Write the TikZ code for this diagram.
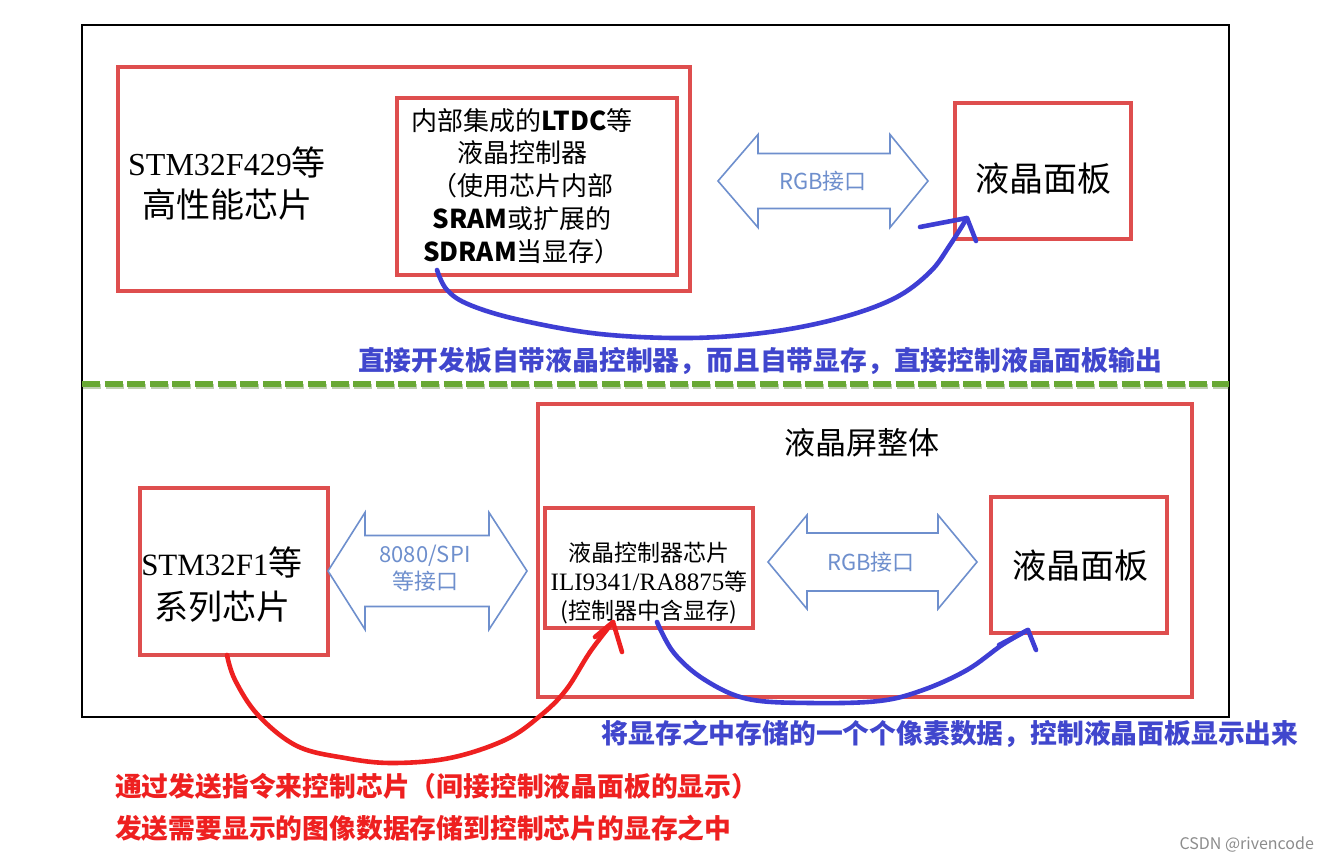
\documentclass[tikz,border=0pt]{standalone}
\usepackage{fontspec}
\setmainfont{Noto Sans CJK SC}
\newfontfamily\lser{Liberation Serif}
\definecolor{boxred}{RGB}{222,78,78}
\definecolor{arrblue}{RGB}{110,143,205}
\definecolor{handblue}{RGB}{62,62,212}
\definecolor{handred}{RGB}{238,32,32}
\definecolor{txtblue}{RGB}{64,70,205}
\definecolor{dashgreen}{RGB}{104,168,52}
\tikzset{
  redbox/.style={draw=boxred, line width=1.6pt, inner sep=0pt},
  dbl/.style={draw=arrblue, line width=0.8pt, fill=white, line join=miter},
  hand/.style={line width=2.3pt, line cap=round, line join=round},
  arrtxt/.style={text=arrblue, font=\fontsize{11}{13.5}\selectfont, align=center},
  note/.style={font=\bfseries\fontsize{13.4}{16}\selectfont}
}
\newcommand{\dblarr}[7]{% tipL tipR innerL innerR cy headhalf shafthalf
  \draw[dbl] (#1,#5) -- (#3,#5-#6) -- (#3,#5-#7) -- (#4,#5-#7) -- (#4,#5-#6) -- (#2,#5)
    -- (#4,#5+#6) -- (#4,#5+#7) -- (#3,#5+#7) -- (#3,#5+#6) -- cycle;}
\begin{document}
\begin{tikzpicture}[x=0.5pt,y=-0.5pt]
\useasboundingbox[fill=white] (0,0) rectangle (1334,860);
% outer frame
\draw[line width=1pt] (82,25) rectangle (1229,717);
% ---------- top part
\node[redbox, minimum width=286pt, minimum height=112pt] (chipA) at (404,179) {};
\node[font=\fontsize{17}{21}\selectfont, align=center] (chipAtxt) at (227,184)
  {{\lser\fontsize{16}{21}\selectfont STM32F429}等\\高性能芯片};
\node[redbox, minimum width=140pt, minimum height=88.5pt] (ltdc) at (537,186.5) {};
\node[font=\fontsize{13}{16.4}\selectfont, align=center] (ltdctxt) at (522,186)
  {内部集成的\textbf{LTDC}等\\液晶控制器\\（使用芯片内部\\\textbf{SRAM}或扩展的\\\textbf{SDRAM}当显存）};
\dblarr{718}{928}{758}{890}{181}{46.5}{27.5}
\node[arrtxt] (rgbA) at (823,181) {RGB接口};
\node[redbox, minimum width=88pt, minimum height=68pt] (panelA) at (1043,171) {};
\node[font=\fontsize{17}{20}\selectfont] (panelAtxt) at (1043,179) {液晶面板};
% blue hand curve top
\coordinate (bAs) at (437,270);
\coordinate (bAe) at (967,218);
\coordinate (bAt1) at (920,227);
\coordinate (bAt2) at (976,241);
\draw[hand, handblue] plot[smooth, tension=0.6] coordinates {(bAs) (447,290) (470,305) (520,320) (600,334) (690,338) (770,332) (840,318) (895,298) (930,272) (950,245) (bAe)};
\draw[hand, handblue] (bAt1) -- (bAe) -- (bAt2);
\node[note, text=txtblue] (noteA) at (760,361) {直接开发板自带液晶控制器，而且自带显存，直接控制液晶面板输出};
% green divider
\draw[dashgreen!70!black, opacity=0.35, line width=2.6pt, dash pattern=on 9pt off 2.3pt] (83,386.5) -- (1229,386.5);
\draw[dashgreen, line width=2.6pt, dash pattern=on 9pt off 2.3pt] (82,384) -- (1229,384);
% ---------- bottom part
\node[redbox, minimum width=94pt, minimum height=83.5pt] (chipB) at (234,571.5) {};
\node[font=\fontsize{17}{22}\selectfont, align=center] (chipBtxt) at (222,585)
  {{\lser\fontsize{15.5}{22}\selectfont STM32F1}等\\系列芯片};
\dblarr{328}{527}{365}{489}{571}{58.5}{35.5}
\node[arrtxt] (spi) at (425,568) {8080/SPI\\等接口};
\node[redbox, minimum width=327pt, minimum height=146.5pt] (lcd) at (865,550.5) {};
\node[font=\fontsize{15.5}{18}\selectfont] (lcdtxt) at (862,443) {液晶屏整体};
\node[redbox, minimum width=104pt, minimum height=60pt] (ctrl) at (649,568) {};
\node[font=\fontsize{11.5}{14.6}\selectfont, align=center] (ctrltxt) at (649,583)
  {液晶控制器芯片\\{\lser\fontsize{12.5}{14.6}\selectfont ILI9341/RA8875}等\\(控制器中含显存)};
\dblarr{768}{977}{807}{938}{562}{47}{29}
\node[arrtxt] (rgbB) at (871,562) {RGB接口};
\node[redbox, minimum width=88pt, minimum height=68pt] (panelB) at (1079,565) {};
\node[font=\fontsize{17}{20}\selectfont] (panelBtxt) at (1080,566) {液晶面板};
% red hand curve
\coordinate (rs) at (227,655);
\coordinate (re) at (613,622);
\coordinate (rt1) at (595,637);
\coordinate (rt2) at (622,652);
\draw[hand, handred] plot[smooth, tension=0.6] coordinates {(rs) (235,680) (258,715) (297,746) (345,758) (392,763) (450,758) (505,740) (540,716) (566,690) (590,652) (re)};
\draw[hand, handred] (rt1) -- (re) -- (rt2);
% blue hand curve bottom
\coordinate (bBs) at (657,622);
\coordinate (bBe) at (1028,630);
\coordinate (bBt1) at (999,645);
\coordinate (bBt2) at (1036,650);
\draw[hand, handblue] plot[smooth, tension=0.6] coordinates {(bBs) (674,653) (705,680) (748,699) (810,703) (879,701) (923,690) (967,670) (1002,645) (bBe)};
\draw[hand, handblue] (bBt1) -- (bBe) -- (bBt2);
% notes
\node[note, text=txtblue] (noteB) at (950,734) {将显存之中存储的一个个像素数据，控制液晶面板显示出来};
\node[note, text=handred, anchor=west] (noteC) at (108,786) {通过发送指令来控制芯片（间接控制液晶面板的显示）};
\node[note, text=handred, anchor=west] (noteD) at (108,828) {发送需要显示的图像数据存储到控制芯片的显存之中};
\node[text=black!45, font=\fontsize{8}{9}\selectfont, anchor=east] (wm) at (1321,845) {CSDN @rivencode};
\end{tikzpicture}
\end{document}
